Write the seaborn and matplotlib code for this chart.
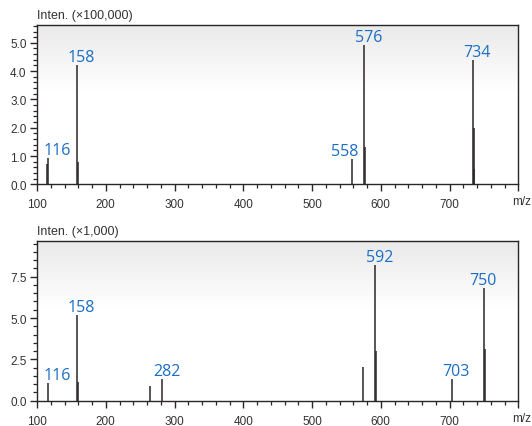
import numpy as np
import matplotlib
matplotlib.use("Agg")
import matplotlib.pyplot as plt
import seaborn as sns
from matplotlib.ticker import MultipleLocator, FixedLocator
from matplotlib import transforms

# ---------------- data ----------------
top_mz = [115, 116, 158, 159, 558, 576, 577, 734, 735, 736]
top_int = [0.73, 0.94, 4.21, 0.78, 0.89, 4.92, 1.33, 4.39, 1.98, 0.54]
top_labels = [116, 158, 558, 576, 734]
top_ylabel = "Inten. (×100,000)"
top_yticks = [0.0, 1.0, 2.0, 3.0, 4.0, 5.0]

bot_mz = [116, 158, 159, 264, 282, 574, 592, 593, 703, 750, 751]
bot_int = [1.07, 5.18, 1.15, 0.89, 1.33, 2.02, 8.21, 3.02, 1.29, 6.82, 3.11]
bot_labels = [116, 158, 282, 592, 703, 750]
bot_ylabel = "Inten. (×1,000)"
bot_yticks = [0.0, 2.5, 5.0, 7.5]

x_ticks = [100, 200, 300, 400, 500, 600, 700]
x_label = "m/z"

# ---------------- style ----------------
sns.set_theme(style="ticks")
tick_font = ["Liberation Sans Narrow", "Liberation Sans", "DejaVu Sans"]
label_font = ["Open Sans", "DejaVu Sans"]
plt.rcParams["font.family"] = tick_font
BLUE = "#1a6ec4"
DARK = "#2b2626"
TXT = "#333333"
label_dx = {116: 9.0, 558: -7.5, 750: -0.5}
default_dx = 4.5

fig = plt.figure(figsize=(5.32, 4.27), dpi=100)
ax_top = fig.add_axes([37 / 532, 1 - 185.3 / 427, 481.3 / 532, 159.3 / 427])
ax_bot = fig.add_axes([37 / 532, 1 - 401.7 / 427, 481.3 / 532, 159.4 / 427])

# vertical gradient background (grey at top -> white)
rows = 256
frac = np.linspace(0, 1, rows)  # 0 at top
shade = np.clip(1 - frac / 0.42, 0, 1)
grey = 1 - 0.085 * shade
grad = np.dstack([grey, grey, grey]).reshape(rows, 1, 3)


def draw(ax, mz, inten, labels, ylim, yticks, yminor, ylabel):
    ax.imshow(grad, extent=[0, 1, 0, 1], transform=ax.transAxes,
              aspect="auto", zorder=0, interpolation="bilinear")
    order = np.argsort(inten)[::-1]
    for i in order:
        ax.vlines(mz[i], 0, inten[i], color=DARK, lw=1.1, zorder=3)
    for lab in labels:
        h = max(v for m, v in zip(mz, inten) if m == lab)
        tr = transforms.offset_copy(ax.transData, fig=fig,
                                    x=label_dx.get(lab, default_dx), y=4,
                                    units="dots")
        ax.text(lab, h, str(lab), transform=tr, ha="center", va="baseline",
                color=BLUE, fontsize=11.5, fontweight="medium",
                family=label_font, zorder=4)
    ax.set_xlim(100, 800)
    ax.set_ylim(0, ylim)
    ax.xaxis.set_major_locator(FixedLocator(x_ticks + [800]))
    ax.set_xticklabels([str(t) for t in x_ticks] + [""])
    ax.xaxis.set_minor_locator(MultipleLocator(20))
    ax.yaxis.set_major_locator(FixedLocator(yticks))
    ax.set_yticklabels([f"{t:.1f}" for t in yticks])
    ax.yaxis.set_minor_locator(MultipleLocator(yminor))
    ax.tick_params(which="major", direction="out", length=5, width=1,
                   color=DARK, labelsize=8.5, labelcolor=TXT)
    ax.tick_params(axis="x", which="major", pad=5)
    ax.tick_params(axis="y", which="major", pad=2.5)
    ax.tick_params(which="minor", direction="out", length=3, width=0.9,
                   color=DARK)
    for s in ax.spines.values():
        s.set_color(DARK)
        s.set_linewidth(1.0)
    ax.text(0.0, 1.025, ylabel, transform=ax.transAxes, ha="left",
            va="bottom", fontsize=9, color=TXT, family=tick_font)
    trans = transforms.blended_transform_factory(fig.transFigure, ax.transAxes)
    tr = transforms.offset_copy(trans, fig=fig, x=0, y=-11, units="dots")
    ax.text(531 / 532, 0, x_label, transform=tr, ha="right", va="top",
            fontsize=8.5, color=TXT, family=tick_font, clip_on=False)


draw(ax_top, top_mz, top_int, top_labels, 5.63, top_yticks, 0.2, top_ylabel)
draw(ax_bot, bot_mz, bot_int, bot_labels, 9.64, bot_yticks, 0.5, bot_ylabel)

fig.savefig("out.png", dpi=100)
